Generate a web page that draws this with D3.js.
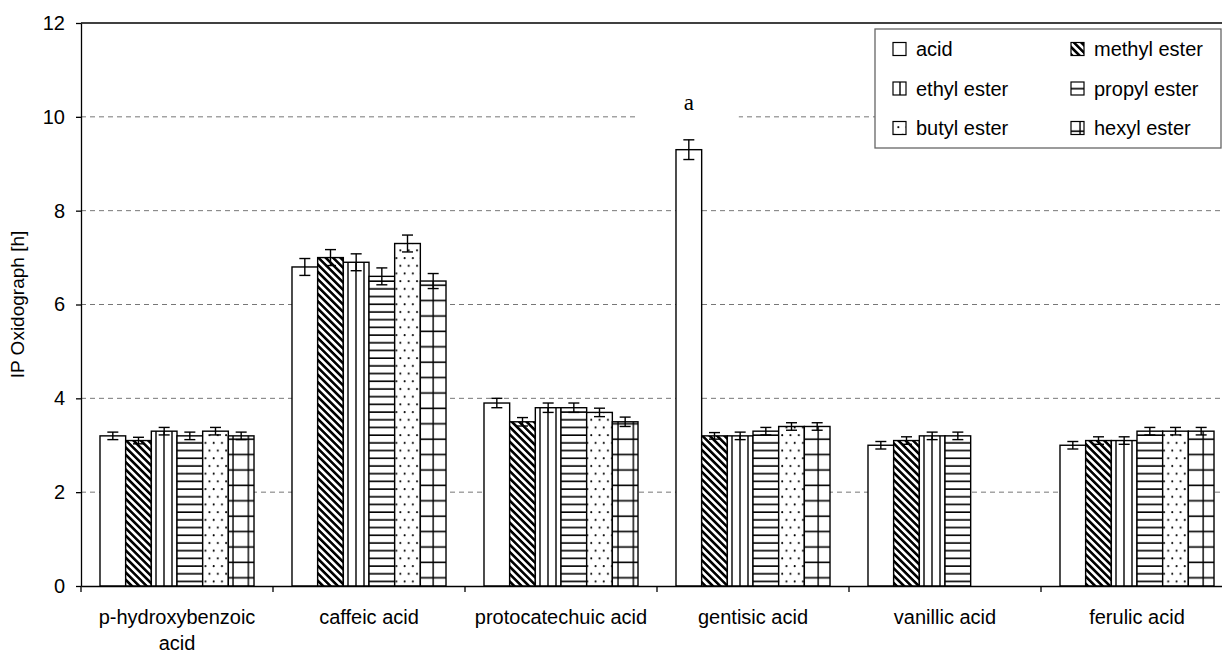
<!DOCTYPE html>
<html>
<head>
<meta charset="utf-8">
<script src="https://cdn.jsdelivr.net/npm/d3@7"></script>
<style>
body { margin: 0; background: #fff; }
svg { display: block; font-family: Arial, "Liberation Sans", sans-serif; }
</style>
</head>
<body>
<svg id="chart"></svg>
<script>
// categories and series
var acids = ["p-hydroxybenzoic acid", "caffeic acid", "protocatechuic acid", "gentisic acid", "vanillic acid", "ferulic acid"];
var tickLabels = ["p-hydroxybenzoic\nacid", "caffeic acid", "protocatechuic acid", "gentisic acid", "vanillic acid", "ferulic acid"];
var esters = ["acid", "methyl ester", "ethyl ester", "propyl ester", "butyl ester", "hexyl ester"];

// IP Oxidograph [h], one array per ester (order follows acids)
var acidValues   = [3.2, 6.8, 3.9, 9.3, 3.0, 3.0];
var methylValues = [3.1, 7.0, 3.5, 3.2, 3.1, 3.1];
var ethylValues  = [3.3, 6.9, 3.8, 3.2, 3.2, 3.1];
var propylValues = [3.2, 6.6, 3.8, 3.3, 3.2, 3.3];
var butylValues  = [3.3, 7.3, 3.7, 3.4, null, 3.3];
var hexylValues  = [3.2, 6.5, 3.5, 3.4, null, 3.3];

// error bars (+/-)
var acidErrors   = [0.08, 0.18, 0.10, 0.21, 0.08, 0.08];
var methylErrors = [0.07, 0.17, 0.09, 0.07, 0.08, 0.08];
var ethylErrors  = [0.08, 0.18, 0.10, 0.08, 0.08, 0.08];
var propylErrors = [0.08, 0.18, 0.10, 0.08, 0.08, 0.08];
var butylErrors  = [0.08, 0.18, 0.09, 0.08, null, 0.08];
var hexylErrors  = [0.08, 0.16, 0.10, 0.08, null, 0.08];

var yTicks = [0, 2, 4, 6, 8, 10, 12];
var gridTicks = [2, 4, 6, 8, 10];

var dimensions = {
    width: 1222,
    height: 653,
    margin: { top: 23, bottom: 67, left: 81, right: -11 }
};

var allValues = [acidValues, methylValues, ethylValues, propylValues, butylValues, hexylValues];
var allErrors = [acidErrors, methylErrors, ethylErrors, propylErrors, butylErrors, hexylErrors];
var patternIds = ["p-acid", "p-methyl", "p-ethyl", "p-propyl", "p-butyl", "p-hexyl"];

var rows = [];
acids.forEach(function(a, i) {
    esters.forEach(function(e, j) {
        if (allValues[j][i] != null) {
            rows.push({ acid: a, ester: e, value: allValues[j][i], err: allErrors[j][i], pat: patternIds[j] });
        }
    });
});

var svg = d3.select("#chart")
    .attr("width", dimensions.width)
    .attr("height", dimensions.height);

// fill patterns
var defs = svg.append("defs");

defs.append("pattern").attr("id", "p-acid")
    .attr("patternUnits", "userSpaceOnUse").attr("width", 4).attr("height", 4)
    .append("rect").attr("width", 4).attr("height", 4).attr("fill", "#fff");

var pm = defs.append("pattern").attr("id", "p-methyl")
    .attr("patternUnits", "userSpaceOnUse").attr("width", 5.2).attr("height", 5.2)
    .attr("patternTransform", "rotate(-45)");
pm.append("rect").attr("width", 5.2).attr("height", 5.2).attr("fill", "#fff");
pm.append("rect").attr("width", 2.6).attr("height", 5.2).attr("fill", "#000");

var pe = defs.append("pattern").attr("id", "p-ethyl")
    .attr("patternUnits", "userSpaceOnUse").attr("width", 8).attr("height", 10);
pe.append("rect").attr("width", 8).attr("height", 10).attr("fill", "#fff");
pe.append("line").attr("x1", 4).attr("x2", 4).attr("y1", 0).attr("y2", 10)
    .attr("stroke", "#000").attr("stroke-width", 1.4);

var pp = defs.append("pattern").attr("id", "p-propyl")
    .attr("patternUnits", "userSpaceOnUse").attr("width", 10).attr("height", 7.7);
pp.append("rect").attr("width", 10).attr("height", 7.7).attr("fill", "#fff");
pp.append("line").attr("x1", 0).attr("x2", 10).attr("y1", 4).attr("y2", 4)
    .attr("stroke", "#000").attr("stroke-width", 1.6);

var pb = defs.append("pattern").attr("id", "p-butyl")
    .attr("patternUnits", "userSpaceOnUse").attr("width", 8.3).attr("height", 15.4);
pb.append("rect").attr("width", 8.3).attr("height", 15.4).attr("fill", "#fff");
pb.append("circle").attr("cx", 2).attr("cy", 4).attr("r", 1).attr("fill", "#000");
pb.append("circle").attr("cx", 6.2).attr("cy", 11.7).attr("r", 1).attr("fill", "#000");

var ph = defs.append("pattern").attr("id", "p-hexyl")
    .attr("patternUnits", "userSpaceOnUse").attr("width", 15.4).attr("height", 15.4);
ph.append("rect").attr("width", 15.4).attr("height", 15.4).attr("fill", "#fff");
ph.append("line").attr("x1", 2).attr("x2", 2).attr("y1", 0).attr("y2", 15.4)
    .attr("stroke", "#000").attr("stroke-width", 1.4);
ph.append("line").attr("x1", 0).attr("x2", 15.4).attr("y1", 8).attr("y2", 8)
    .attr("stroke", "#000").attr("stroke-width", 1.6);

// scales
var x0 = d3.scaleBand()
    .domain(acids)
    .range([dimensions.margin.left, dimensions.width - dimensions.margin.right]);

var x1 = d3.scaleBand()
    .domain(esters)
    .range([0, x0.bandwidth()])
    .paddingInner(0)
    .paddingOuter(0.74);

var yScale = d3.scaleLinear()
    .domain([0, 12])
    .range([dimensions.height - dimensions.margin.bottom, dimensions.margin.top]);

var x0Right = dimensions.width - dimensions.margin.right;

// grid lines
svg.append("g").selectAll("line")
    .data(gridTicks)
    .enter()
    .append("line")
    .attr("x1", dimensions.margin.left)
    .attr("x2", x0Right)
    .attr("y1", d => yScale(d))
    .attr("y2", d => yScale(d))
    .attr("stroke", "#777")
    .attr("stroke-width", 1)
    .attr("stroke-dasharray", "5,4");

// top border of plot area
svg.append("line")
    .attr("x1", dimensions.margin.left).attr("x2", x0Right)
    .attr("y1", yScale(12)).attr("y2", yScale(12))
    .attr("stroke", "#000").attr("stroke-width", 1.3);

// bars
svg.append("g").selectAll("rect")
    .data(rows)
    .enter()
    .append("rect")
    .attr("x", d => x0(d.acid) + x1(d.ester))
    .attr("y", d => yScale(d.value))
    .attr("width", x1.bandwidth())
    .attr("height", d => yScale(0) - yScale(d.value))
    .attr("fill", d => "url(#" + d.pat + ")")
    .attr("stroke", "#000")
    .attr("stroke-width", 1.4);

// error bars
var errG = svg.append("g").attr("stroke", "#000").attr("stroke-width", 1.4);
var cap = 5.5;
rows.forEach(function(d) {
    var cx = x0(d.acid) + x1(d.ester) + x1.bandwidth() / 2;
    errG.append("line").attr("x1", cx).attr("x2", cx)
        .attr("y1", yScale(d.value + d.err)).attr("y2", yScale(d.value - d.err));
    errG.append("line").attr("x1", cx - cap).attr("x2", cx + cap)
        .attr("y1", yScale(d.value + d.err)).attr("y2", yScale(d.value + d.err));
    errG.append("line").attr("x1", cx - cap).attr("x2", cx + cap)
        .attr("y1", yScale(d.value - d.err)).attr("y2", yScale(d.value - d.err));
});

// "a" label on gentisic acid, with white box hiding the grid line
var gx = x0("gentisic acid") + x1("acid") + x1.bandwidth() / 2;
svg.append("rect")
    .attr("x", gx - 50).attr("y", yScale(10) - 24)
    .attr("width", 100).attr("height", 34)
    .attr("fill", "#fff");
svg.append("text")
    .attr("x", gx)
    .attr("y", yScale(10) - 7)
    .attr("text-anchor", "middle")
    .style("font-family", "'Liberation Serif', 'Times New Roman', serif")
    .style("font-size", "23px")
    .text("a");

// y axis
svg.append("g")
    .call(d3.axisLeft(yScale).tickValues(yTicks).tickSize(5).tickSizeOuter(0).tickPadding(11))
    .attr("transform", `translate(${dimensions.margin.left},0)`)
    .call(g => g.selectAll("line, path").attr("stroke", "#000").attr("stroke-width", 1.3))
    .call(g => g.selectAll("text").style("font-size", "20px").attr("fill", "#000"));

// x axis: line plus ticks at category boundaries
var xAxis = svg.append("g")
    .attr("transform", `translate(0,${yScale(0)})`)
    .call(d3.axisBottom(x0).tickSize(0).tickSizeOuter(0).tickFormat(""));
xAxis.select("path").attr("stroke", "#000").attr("stroke-width", 1.3);

svg.append("g").selectAll("line")
    .data(acids)
    .enter()
    .append("line")
    .attr("x1", d => x0(d)).attr("x2", d => x0(d))
    .attr("y1", yScale(0)).attr("y2", yScale(0) + 6)
    .attr("stroke", "#000").attr("stroke-width", 1.3);

var labels = svg.append("g").selectAll("text")
    .data(acids)
    .enter()
    .append("text")
    .attr("text-anchor", "middle")
    .style("font-size", "20px")
    .attr("fill", "#000");

labels.each(function(d, i) {
    var lines = tickLabels[i].split("\n");
    var t = d3.select(this);
    lines.forEach(function(l, k) {
        t.append("tspan")
            .attr("x", x0(d) + x0.bandwidth() / 2)
            .attr("y", yScale(0) + 38 + k * 26)
            .text(l);
    });
});

// y axis title
svg.append("text")
    .attr("transform", "translate(24," + ((yScale(0) + yScale(12)) / 2) + ")rotate(-90)")
    .style("text-anchor", "middle")
    .style("font-size", "19px")
    .text("IP Oxidograph [h]");

// legend
var legend = svg.append("g");
legend.append("rect")
    .attr("x", 875).attr("y", 29)
    .attr("width", 346).attr("height", 119)
    .attr("fill", "#fff")
    .attr("stroke", "#666")
    .attr("stroke-width", 1.3);

esters.forEach(function(e, j) {
    var col = j % 2, row = Math.floor(j / 2);
    var lx = 893 + col * 178;
    var ly = 49 + row * 39.5;
    legend.append("rect")
        .attr("x", lx).attr("y", ly - 6.5)
        .attr("width", 13).attr("height", 13)
        .attr("fill", "url(#" + patternIds[j] + ")")
        .attr("stroke", "#000")
        .attr("stroke-width", 1.2);
    legend.append("text")
        .attr("x", lx + 23).attr("y", ly + 7)
        .style("font-size", "20px")
        .text(e);
});
</script>
</body>
</html>
